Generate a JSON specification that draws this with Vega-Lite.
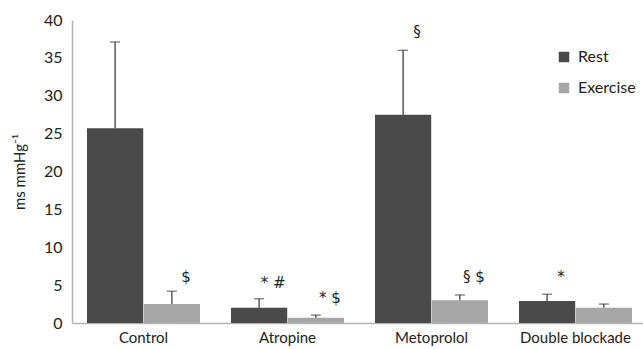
{
  "$schema": "https://vega.github.io/schema/vega-lite/v6.json",
  "width": 575,
  "height": 303,
  "autosize": "none",
  "padding": {"left": 72, "top": 20, "right": 0, "bottom": 26},
  "config": {
    "view": {"stroke": null},
    "font": "Lato",
    "axis": {"labelFont": "Lato", "titleFont": "Lato", "labelColor": "#222", "titleColor": "#222"},
    "axisY": {"values": [0, 5, 10, 15, 20, 25, 30, 35, 40], "labelOverlap": false, "grid": false, "ticks": false, "domainColor": "#b4b4b4", "domainWidth": 1.5, "labelFontSize": 16, "labelPadding": 10, "titleFontSize": 15, "titleFontWeight": "normal", "titlePadding": 16}
  },
  "data": {
    "values": [
      {"group": "Control", "cond": "Rest", "value": 25.7, "upper": 37.1, "note": "", "notey": 0},
      {"group": "Control", "cond": "Exercise", "value": 2.5, "upper": 4.2, "note": "$", "notey": 6.1},
      {"group": "Atropine", "cond": "Rest", "value": 2.0, "upper": 3.2, "note": "* #", "notey": 5.3},
      {"group": "Atropine", "cond": "Exercise", "value": 0.7, "upper": 1.05, "note": "* $", "notey": 3.3},
      {"group": "Metoprolol", "cond": "Rest", "value": 27.5, "upper": 36.0, "note": "§", "notey": 38.4},
      {"group": "Metoprolol", "cond": "Exercise", "value": 3.0, "upper": 3.7, "note": "§ $", "notey": 6.1},
      {"group": "Double blockade", "cond": "Rest", "value": 2.9, "upper": 3.8, "note": "*", "notey": 6.1},
      {"group": "Double blockade", "cond": "Exercise", "value": 2.0, "upper": 2.5, "note": "", "notey": 0}
    ]
  },
  "encoding": {
    "x": {
      "field": "group", "type": "nominal",
      "sort": ["Control", "Atropine", "Metoprolol", "Double blockade"],
      "scale": {"paddingInner": 0.215, "paddingOuter": 0.104},
      "axis": {"title": null, "labelAngle": 0, "ticks": false, "domainColor": "#b4b4b4", "domainWidth": 1.5, "labelFontSize": 15, "labelPadding": 7}
    },
    "xOffset": {"field": "cond", "type": "nominal", "sort": ["Rest", "Exercise"], "scale": {"paddingInner": 0.01}}
  },
  "layer": [
    {
      "mark": {"type": "bar"},
      "encoding": {
        "y": {
          "field": "value", "type": "quantitative",
          "scale": {"domain": [0, 40], "nice": false},
          "axis": {"title": "ms mmHg⁻¹"}
        },
        "color": {
          "field": "cond", "type": "nominal",
          "sort": ["Rest", "Exercise"],
          "scale": {"domain": ["Rest", "Exercise"], "range": ["#4a4a4a", "#a6a6a6"]},
          "legend": {"title": null, "orient": "none", "legendX": 484, "legendY": 29, "symbolType": "square", "symbolSize": 110, "symbolStrokeWidth": 0, "labelFontSize": 16, "labelColor": "#222", "labelFont": "Lato", "rowPadding": 15, "labelOffset": 6}
        }
      }
    },
    {
      "mark": {"type": "rule", "color": "#333", "strokeWidth": 1.2},
      "encoding": {"y": {"field": "value", "type": "quantitative", "axis": {"title": "ms mmHg⁻¹"}}, "y2": {"field": "upper"}}
    },
    {
      "mark": {"type": "tick", "color": "#333", "thickness": 1.2, "size": 10},
      "encoding": {"y": {"field": "upper", "type": "quantitative", "axis": {"title": "ms mmHg⁻¹"}}}
    },
    {
      "transform": [{"filter": "datum.note != ''"}],
      "mark": {"type": "text", "font": "DejaVu Sans", "fontSize": 15, "dx": 14, "color": "#222", "baseline": "middle"},
      "encoding": {"y": {"field": "notey", "type": "quantitative", "axis": {"title": "ms mmHg⁻¹"}}, "text": {"field": "note"}}
    }
  ]
}
